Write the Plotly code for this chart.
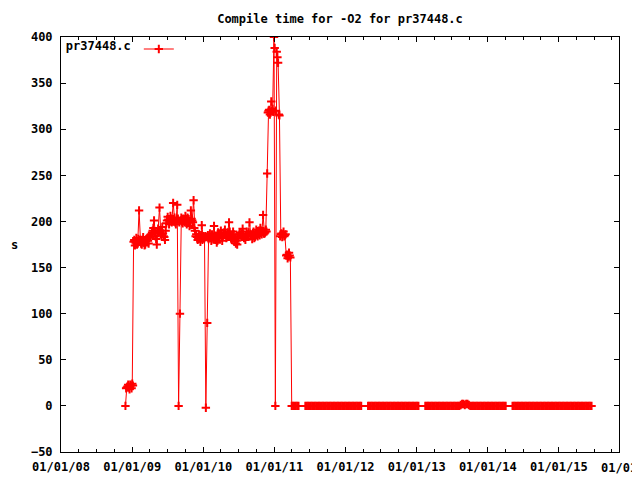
import plotly.graph_objects as go
import pandas as pd

# weekly samples starting at this date
start_date = "2008-11-27"
# extra mid-week samples of the busy 2008-2011 period
mid_start_date = "2008-11-30 12:00"

# compile time (s), one value per week
busy_values = [
    0, 20, 23, 18, 22, 24, 178, 174, 182, 176,
    212, 180, 175, 183, 174, 179, 182, 176, 183, 186,
    190, 201, 184, 175, 192, 215, 186, 194, 184, 180,
    198, 205, 197, 206, 199, 220, 204, 197, 218, 0,
    100, 204, 198, 202, 206, 197, 203, 195, 212, 201,
    223, 190, 186, 180, 186, 178, 196, 184, 182, -2,
    90, 181, 187, 179, 185, 195, 180, 177, 188, 182,
    190, 179, 186, 191, 182, 188, 199, 184, 180, 189,
    178, 176, 175, 184, 188, 183, 192, 182, 180, 189,
    185, 199, 186, 181, 189, 183, 191, 184, 190, 193,
    186, 207, 187, 191, 252, 320, 316, 330, 322, 400,
    0, 384, 372, 315, 186, 183, 189, 185, 163, 160,
    166, 161,
]
busy_mid_values = [
    19, 21, 20, 23, 19, 22,
    180, 177, 175, 181, 178, 176, 180, 177, 175, 181, 179, 184,
    184, 188, 193, 187, 181, 188, 190, 189, 185, 187, 183,
    190, 201, 202, 200, 203, 201, 200, 199, 202, 203,
    199,
    201, 200, 203, 199, 201, 204, 200, 199, 203, 199,
    193, 184, 183, 181, 182, 185, 180, 183,
    184, 183,
    185, 183, 182, 186, 181, 184, 183, 179, 185, 187,
    183, 184, 188, 185, 183, 186, 189, 182, 184, 186,
    181, 179, 182, 186, 185, 187, 186, 183, 184, 186,
    188, 184, 185, 187, 182, 186, 188, 187, 185, 190,
    189, 187, 188,
    189, 318,
    321, 318, 320, 319,
    388, 320, 378, 316, 184,
    187, 186, 184, 186,
    164, 162, 163,
]
flat_values = [
    0, 0, 0, 0, 0, 0,
    None, None, None, None, 0,
    0, 0, 0, 0, 0, 0, 0, 0, 0, 0,
    0, 0, 0, 0, 0, 0, 0, 0, 0, 0,
    0, 0, 0, 0, 0, 0, 0, 0, 0, 0,
    0, 0, 0, 0, 0, 0, 0, 0, 0, 0,
    0,
    None, None, None, None, 0,
    0, 0, 0, 0, 0, 0, 0, 0, 0, 0,
    0, 0, 0, 0, 0, 0, 0, 0, 0, 0,
    0, 0, 0, 0, 0, 0, 0, 0, 0, 0,
    0, 0, 0, 0, 0, 0, 0,
    None, None, None, None, 0,
    0, 0, 0, 0, 0, 0, 0, 0, 0, 0,
    0, 0, 0, 0, 0, 0, 0, 0, 0, 0,
    0, 0, 0, 0, 0,
    1, 2, 2, 1, 2, 2, 1,
    0, 0, 0, 0, 0, 0, 0, 0, 0, 0,
    0, 0, 0, 0, 0, 0, 0, 0, 0, 0,
    0, 0, 0, 0, 0, 0, 0,
    None, None, None, None, 0,
    0, 0, 0, 0, 0, 0, 0, 0, 0, 0,
    0, 0, 0, 0, 0, 0, 0, 0, 0, 0,
    0, 0, 0, 0, 0, 0, 0, 0, 0, 0,
    0, 0, 0, 0, 0, 0, 0, 0, 0, 0,
    0, 0, 0, 0, 0, 0, 0, 0, 0, 0,
    0, 0, 0, 0, 0, 0, 0, 0,
]
values = busy_values + flat_values
dates = pd.date_range(start_date, periods=len(values), freq="7D")
mid_dates = pd.date_range(mid_start_date, periods=len(busy_mid_values), freq="7D")

series_name = "pr37448.c"
title_text = "Compile time for -O2 for pr37448.c"
y_label = "s"
x_start, x_end = "2008-01-01", "2015-11-06"
y_min, y_max, y_step = -50, 400, 50
extra_tick_date = "2016-01-01"
extra_tick_label = "01/01/16"

RED = "#ff0000"
FONT = dict(family="DejaVu Sans Mono", size=12, color="black", weight="bold")
MARKER = dict(symbol="cross-thin", size=6, color=RED, line=dict(color=RED, width=2))

# the page body adds an 8 px offset; the figure is sized to fill the rest
W, H = 632, 472

fig = go.Figure()
fig.add_trace(go.Scatter(
    x=mid_dates, y=busy_mid_values, mode="markers", showlegend=False,
    marker=MARKER, hoverinfo="skip",
))
fig.add_trace(go.Scatter(
    x=dates, y=values, mode="lines+markers", name="",
    connectgaps=False,
    line=dict(color=RED, width=1),
    marker=MARKER,
))

axis_common = dict(
    showline=True, linecolor="black", linewidth=1, mirror="allticks",
    ticks="inside", ticklen=5, tickcolor="black", tickwidth=1,
    showgrid=False, zeroline=False, tickfont=FONT, automargin=False,
)

fig.update_xaxes(
    type="date", range=[x_start, x_end], tick0=x_start, dtick="M12",
    tickformat="%m/%d/%y", ticklabelstandoff=4,
    minor=dict(dtick="M3", tick0=x_start, ticks="inside", ticklen=3,
               tickcolor="black", showgrid=False),
    **axis_common,
)
fig.update_yaxes(range=[y_min, y_max], dtick=y_step, tick0=0,
                 ticklabelstandoff=5, **axis_common)

span_days = (pd.Timestamp(x_end) - pd.Timestamp(x_start)).days
extra_x = (pd.Timestamp(extra_tick_date) - pd.Timestamp(x_start)).days / span_days

fig.update_layout(
    width=W, height=H,
    margin=dict(l=53, r=21, t=29, b=28),
    paper_bgcolor="white", plot_bgcolor="white",
    font=FONT,
    title=dict(text=title_text, font=FONT, x=0.5, xref="paper",
               y=1 - 11 / H, yref="container", yanchor="middle", automargin=False),
    showlegend=True,
    legend=dict(
        title=dict(text=series_name, side="left", font=FONT),
        orientation="h", x=0.005, y=1.006, xanchor="left", yanchor="top",
        bgcolor="rgba(0,0,0,0)", font=FONT, itemwidth=30,
    ),
    annotations=[
        dict(text=y_label, xref="paper", yref="paper", x=-0.084, y=0.5,
             showarrow=False, font=FONT, xanchor="center", yanchor="middle"),
        dict(text=extra_tick_label, xref="paper", yref="paper", x=extra_x, y=0,
             yanchor="top", xanchor="center", yshift=-7, showarrow=False, font=FONT),
    ],
)

fig.write_html("out.html")
